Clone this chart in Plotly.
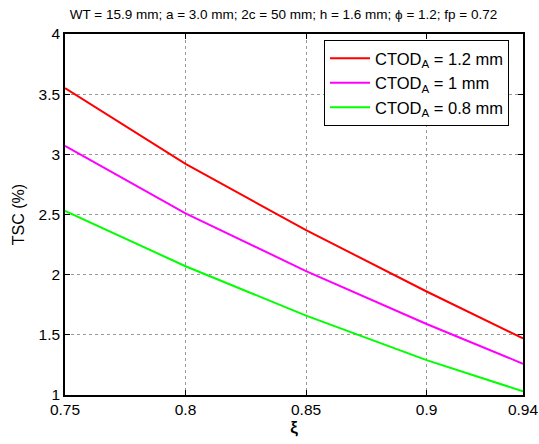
import plotly.graph_objects as go

# Normalised position along the weld and tensile strain capacity (%)
xi = [0.75, 0.80, 0.85, 0.90, 0.94]
tsc_12 = [3.55, 2.92, 2.37, 1.86, 1.47]
tsc_10 = [3.07, 2.51, 2.03, 1.59, 1.26]
tsc_08 = [2.53, 2.07, 1.66, 1.29, 1.03]

series_names = ["CTOD<sub>A</sub> = 1.2 mm", "CTOD<sub>A</sub> = 1 mm", "CTOD<sub>A</sub> = 0.8 mm"]
series_colors = ["#FF0000", "#FF00FF", "#00FF00"]
x_ticks = [0.75, 0.8, 0.85, 0.9, 0.94]
x_tick_text = ["0.75", "0.8", "0.85", "0.9", "0.94"]
y_ticks = [1, 1.5, 2, 2.5, 3, 3.5, 4]
y_tick_text = ["1", "1.5", "2", "2.5", "3", "3.5", "4"]

fig = go.Figure()
for name, ys, col in zip(series_names, [tsc_12, tsc_10, tsc_08], series_colors):
    fig.add_trace(go.Scatter(x=xi, y=ys, mode="lines", name=name,
                             line=dict(color=col, width=2)))

font_family = "Liberation Sans, Arial, sans-serif"
axis_common = dict(
    showline=True, linecolor="black", linewidth=1.5, mirror="ticks",
    ticks="inside", ticklen=5, tickcolor="black", automargin=False,
    showgrid=True, gridcolor="#999999", griddash="dot", gridwidth=1,
    zeroline=False, tickfont=dict(size=15.5, color="black", family=font_family),
)

fig.update_layout(
    width=539, height=444,
    margin=dict(l=65, r=16, t=34, b=49),
    paper_bgcolor="white", plot_bgcolor="white",
    font=dict(family=font_family, color="black"),
    title=dict(text="WT = 15.9 mm; a = 3.0 mm; 2c = 50 mm; h = 1.6 mm; \u03d5 = 1.2; fp = 0.72",
               x=0.526, xanchor="center", y=0.968, yanchor="middle",
               font=dict(size=13.5, color="black")),
    showlegend=True,
    legend=dict(x=0.5655, y=0.983, xanchor="left", yanchor="top",
                bgcolor="white", bordercolor="black", borderwidth=1,
                font=dict(size=16.5, color="black", family=font_family),
                itemwidth=40, tracegroupgap=0),
)
fig.update_xaxes(range=[0.75, 0.94], tickvals=x_ticks, ticktext=x_tick_text,
                 title=dict(text="<b>\u03be</b>", font=dict(size=17), standoff=4),
                 **axis_common)
fig.update_yaxes(range=[1, 4], tickvals=y_ticks, ticktext=y_tick_text,
                 title=dict(text="TSC (%)", font=dict(size=16), standoff=10),
                 **axis_common)

fig.write_html("out.html")
